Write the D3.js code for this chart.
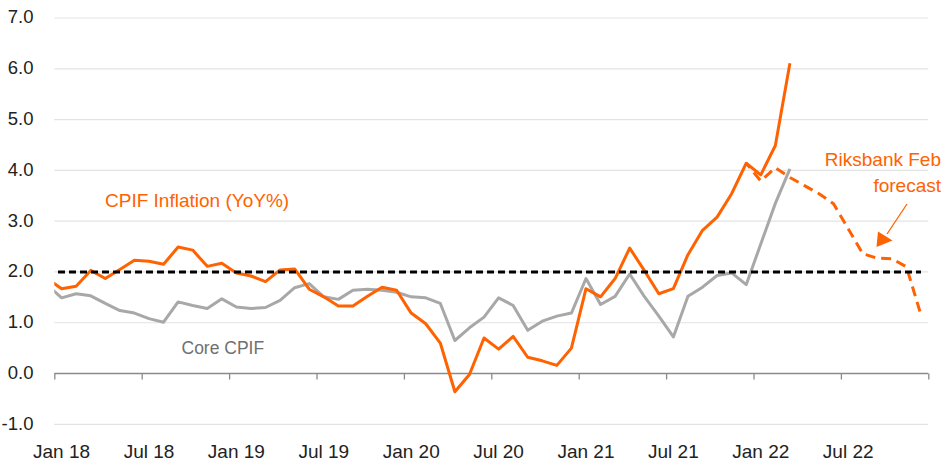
<!DOCTYPE html>
<html>
<head>
<meta charset="utf-8">
<script src="https://cdn.jsdelivr.net/npm/d3@7"></script>
<style>
  body { margin: 0; background: #fff; }
  svg { display: block; font-family: "Liberation Sans", Arial, sans-serif; }
</style>
</head>
<body>
<div id="chart"></div>
<script>
// monthly readings, first value = Dec 17 (clipped at the left edge)
const cpif = [1.87,
  1.67, 1.72, 2.03, 1.87, 2.05, 2.23, 2.21, 2.15, 2.49, 2.43, 2.11, 2.17,
  1.98, 1.92, 1.81, 2.04, 2.06, 1.66, 1.51, 1.33, 1.33, 1.52, 1.70, 1.64,
  1.19, 0.98, 0.60, -0.36, -0.02, 0.70, 0.48, 0.73, 0.32, 0.25, 0.16, 0.50,
  1.67, 1.51, 1.87, 2.47, 2.03, 1.57, 1.67, 2.34, 2.82, 3.08, 3.54, 4.14,
  3.91, 4.49, 6.11];
const coreCpif = [1.75,
  1.49, 1.57, 1.53, 1.38, 1.24, 1.19, 1.08, 1.01, 1.41, 1.34, 1.28, 1.47,
  1.31, 1.28, 1.30, 1.44, 1.69, 1.77, 1.51, 1.46, 1.64, 1.66, 1.64, 1.60,
  1.51, 1.49, 1.38, 0.65, 0.90, 1.11, 1.49, 1.34, 0.85, 1.03, 1.13, 1.19,
  1.87, 1.36, 1.52, 1.96, 1.52, 1.13, 0.72, 1.52, 1.70, 1.93, 1.98, 1.75,
  2.55, 3.35, 4.03];
// Riksbank Feb forecast, Dec 21 .. Dec 22
const forecastStart = 48;   // position of Dec 21 in the month list
const forecast = [4.14, 3.79, 4.05, 3.86, 3.70, 3.54, 3.34, 2.85, 2.36, 2.27, 2.26, 2.10, 1.15];
const targetValue = 2.0;

const yTicks = [-1, 0, 1, 2, 3, 4, 5, 6, 7];
const xTickLabels = ["Jan 18", "Jul 18", "Jan 19", "Jul 19", "Jan 20", "Jul 20", "Jan 21", "Jul 21", "Jan 22", "Jul 22"];

// category list Dec 17 .. Dec 22
const months = d3.timeMonth.range(new Date(2017, 11, 1), new Date(2023, 0, 1));

const W = 946, H = 468;
const orange = "#ff6200", grey = "#a8a8a8";

const svg = d3.select("#chart").append("svg")
  .attr("width", W).attr("height", H);

// month index scale : 0 = start of Jan 18, 60 = start of Jan 23
const x = d3.scaleLinear().domain([0, 60]).range([54.3, 928.3]);
const y = d3.scaleLinear().domain([-1, 7]).range([424.3, 18]);
const xm = i => x(i - 1 + 0.5);   // i = index in months (Dec 17 = 0)

svg.append("defs").append("clipPath").attr("id", "plot-clip")
  .append("rect")
  .attr("x", x(0)).attr("y", 0)
  .attr("width", x(60) - x(0)).attr("height", H);

// gridlines
svg.append("g").selectAll("line")
  .data(yTicks.filter(d => d !== 0))
  .enter().append("line")
  .attr("x1", x(0)).attr("x2", x(60))
  .attr("y1", d => y(d)).attr("y2", d => y(d))
  .style("stroke", "#e3e3e3").style("stroke-width", 1.2);

// y labels (plain hyphen for the minus, as in the original)
svg.append("g").selectAll("text")
  .data(yTicks)
  .enter().append("text")
  .attr("x", 33.5)
  .attr("y", d => y(d) - 1)
  .attr("dy", "0.35em")
  .attr("text-anchor", "end")
  .style("font-size", "18.5px")
  .style("fill", "#222")
  .text(d => d3.format(".1f")(d).replace("\u2212", "-"));

// x axis at zero
const xAxis = d3.axisBottom(x)
  .tickValues(d3.range(0, 61, 6))
  .tickSize(6)
  .tickFormat("");
const axisG = svg.append("g")
  .attr("transform", "translate(0," + y(0) + ")")
  .call(xAxis);
axisG.select(".domain").attr("d", "M" + x(0) + ",0H" + x(60)).style("stroke", "#8a8a8a").style("stroke-width", 1.3);
axisG.selectAll(".tick line").style("stroke", "#8a8a8a").style("stroke-width", 1.3);

svg.append("g").selectAll("text")
  .data(xTickLabels)
  .enter().append("text")
  .attr("x", (d, i) => x(i * 6 + 0.5))
  .attr("y", 458)
  .attr("text-anchor", "middle")
  .style("font-size", "19px")
  .style("fill", "#222")
  .text(d => d);

const line = d3.line()
  .x(d => xm(d.i))
  .y(d => y(d.v));

const plot = svg.append("g").attr("clip-path", "url(#plot-clip)");

plot.append("path")
  .datum(coreCpif.map((v, i) => ({i: i, v: v})))
  .attr("d", line)
  .style("fill", "none").style("stroke", grey)
  .style("stroke-width", 3).style("stroke-linejoin", "round");

plot.append("path")
  .datum(cpif.map((v, i) => ({i: i, v: v})))
  .attr("d", line)
  .style("fill", "none").style("stroke", orange)
  .style("stroke-width", 3).style("stroke-linejoin", "round");

plot.append("path")
  .datum(forecast.map((v, i) => ({i: i + forecastStart, v: v})))
  .attr("d", line)
  .style("fill", "none").style("stroke", orange)
  .style("stroke-width", 3).style("stroke-dasharray", "10,6")
  .style("stroke-dashoffset", 4);

// inflation target
plot.append("path")
  .datum(months.map((m, i) => ({i: i, v: targetValue})))
  .attr("d", line)
  .style("fill", "none").style("stroke", "#000")
  .style("stroke-width", 3).style("stroke-dasharray", "7,4");

// labels
svg.append("text")
  .attr("x", 105).attr("y", 206.5)
  .style("font-size", "19px").style("fill", orange)
  .text("CPIF Inflation (YoY%)");

svg.append("text")
  .attr("x", 181.5).attr("y", 353.5)
  .style("font-size", "17.5px").style("fill", "#707070")
  .text("Core CPIF");

const fc = svg.append("text")
  .attr("text-anchor", "end")
  .style("font-size", "19px").style("fill", orange);
fc.append("tspan").attr("x", 941).attr("y", 166).text("Riksbank Feb");
fc.append("tspan").attr("x", 941).attr("y", 191.5).text("forecast");

// arrow to the forecast line
svg.append("line")
  .attr("x1", 907).attr("y1", 204)
  .attr("x2", 887).attr("y2", 234)
  .style("stroke", orange).style("stroke-width", 1.3);
svg.append("path")
  .attr("d", "M876.5,247L878,231.5L892.5,240.5Z")
  .style("fill", orange);
</script>
</body>
</html>
